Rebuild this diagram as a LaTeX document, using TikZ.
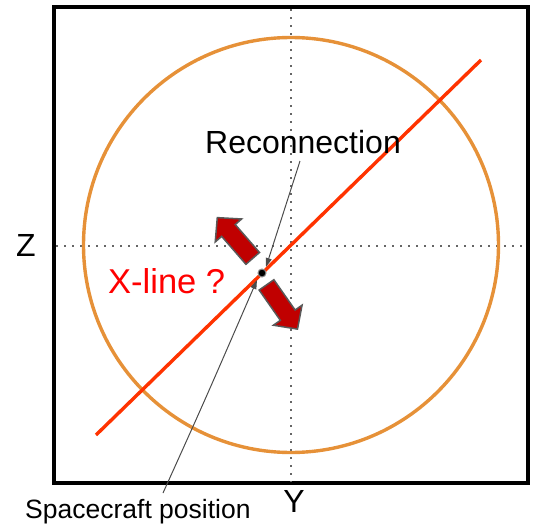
\documentclass[tikz,border=0pt]{standalone}
\usepackage{fontspec}
\setmainfont{Liberation Sans}
\usetikzlibrary{positioning, arrows.meta}

\definecolor{ringor}{HTML}{E69138}
\definecolor{xlred}{HTML}{FF3300}
\definecolor{flowred}{HTML}{C00000}

% block arrow of length 54 pointing along +x, centred at the origin
\newcommand{\flowshape}{(-27,-9) -- (10,-9) -- (10,-17.5) -- (27,0)
  -- (10,17.5) -- (10,9) -- (-27,9) -- cycle}

\begin{document}
\begin{tikzpicture}[
    x=1pt, y=-1pt,
    frame/.style={draw, line width=3.8pt},
    axis/.style={draw=gray!80!black, line width=1.8pt, dash pattern=on 1.8pt off 6.2pt},
    ring/.style={draw=ringor, line width=3.4pt},
    xline/.style={draw=xlred, line width=3.4pt},
    flow/.style={draw=black!65, fill=flowred, line width=1.5pt, line join=miter},
    ptr/.style={-{Triangle[length=9pt, width=6pt]}, draw=black!70, line width=1pt},
    lbl/.style={font=\fontsize{32}{35}\selectfont, inner sep=0pt},
    scdot/.style={circle, fill=black, draw=black!45, line width=1pt,
                  inner sep=0pt, minimum size=8pt}]

  \useasboundingbox (0,0) rectangle (539,525);

  % === Frame and axes ===
  \draw[frame] (54,7) rectangle (528,483);
  \draw[axis] (291,9) -- (291,482);
  \draw[axis] (56,246) -- (527,246);

  % === Ring and X-line ===
  \draw[ring] (291,245) circle [radius=207.5];
  \draw[xline] (96,435) -- (481,60);

  % === Outflow arrows ===
  \draw[flow, shift={(235,238)}, rotate=131] \flowshape;
  \draw[flow, shift={(282,307)}, rotate=-55] \flowshape;

  % Spacecraft
  \node[scdot] (sc) at (262,273) {};

  % === Labels ===
  \node[lbl, anchor=base] (rec) at (303,153) {Reconnection};
  \node[lbl, anchor=base west, text=red, font=\fontsize{34.5}{38}\selectfont]
    (xl) at (108,293) {X-line ?};
  \node[lbl, anchor=base west, font=\fontsize{26.5}{29}\selectfont]
    (scl) at (25,518) {Spacecraft position};
  \node[lbl] (zl) at (26,245) {Z};
  \node[lbl] (yl) at (294,501) {Y};

  % === Pointers ===
  \coordinate (recfoot) at (300,161);
  \coordinate (rectip) at (266,267);
  \coordinate (scfoot) at (163,493);
  \coordinate (sctip) at (257,280);
  \draw[ptr] (recfoot) -- (rectip);
  \draw[ptr] (scfoot) .. controls (205,400) .. (sctip);

\end{tikzpicture}
\end{document}
